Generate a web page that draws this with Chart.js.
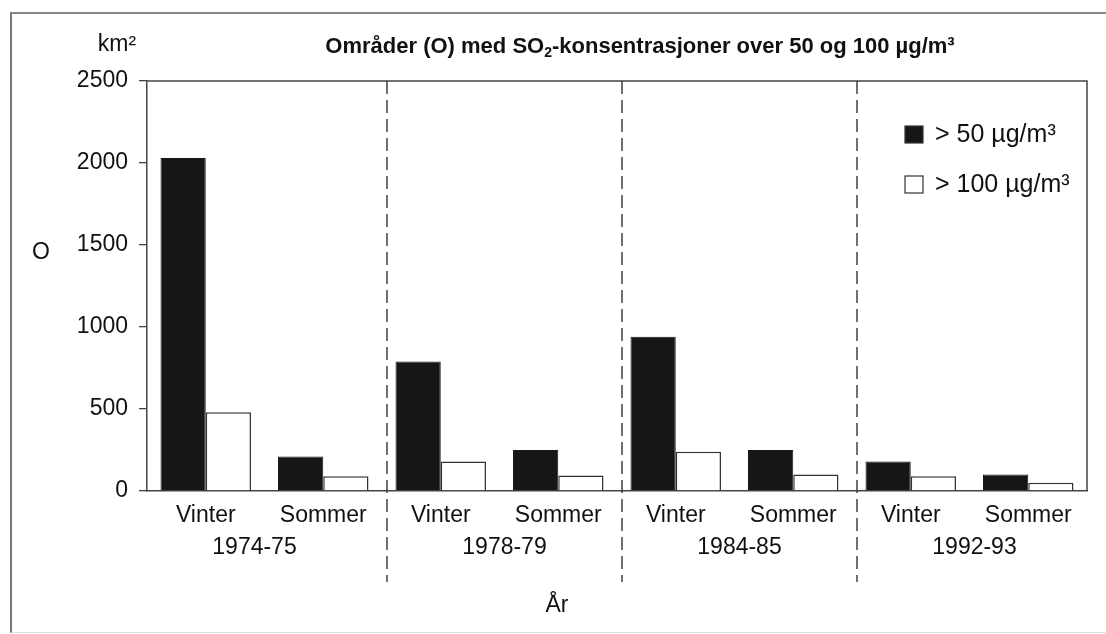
<!DOCTYPE html>
<html>
<head>
<meta charset="utf-8">
<script src="https://cdn.jsdelivr.net/npm/chart.js@4.4.1/dist/chart.umd.min.js"></script>
<style>
  body { margin: 0; background: #fff; }
  #wrap { position: relative; width: 1106px; height: 634px; }
  #frame {
    position: absolute; left: 10px; top: 12px; width: 1110px; height: 618px;
    border-left: 2px solid #777; border-top: 2px solid #888; border-bottom: 1px solid #ddd;
  }
  canvas { position: absolute; left: 0; top: 0; }
</style>
</head>
<body>
<div id="wrap">
  <div id="frame"></div>
  <canvas id="chart" width="1106" height="634"></canvas>
</div>
<script>
// data
const categories = ['Vinter', 'Sommer', 'Vinter', 'Sommer', 'Vinter', 'Sommer', 'Vinter', 'Sommer'];
const years = ['1974-75', '1978-79', '1984-85', '1992-93'];
const over50 = [2030, 210, 790, 250, 940, 250, 180, 100];
const over100 = [480, 90, 180, 95, 240, 100, 90, 50];
const yMax = 2500;
const yStep = 500;

const FONT = "'Liberation Sans', Arial, Helvetica, sans-serif";

// frame, separators, year labels, legend and titles
const extras = {
  id: 'extras',
  afterDatasetsDraw(chart) {
    const ctx = chart.ctx;
    const area = chart.chartArea;
    const x = chart.scales.x;
    ctx.save();

    // box around plot (top + right)
    ctx.strokeStyle = '#444';
    ctx.lineWidth = 1.5;
    ctx.beginPath();
    ctx.moveTo(area.left, area.top);
    ctx.lineTo(area.right, area.top);
    ctx.lineTo(area.right, area.bottom);
    ctx.stroke();

    // dashed separators between years
    ctx.setLineDash([13, 6]);
    ctx.lineWidth = 1.4;
    ctx.strokeStyle = '#333';
    for (let i = 1; i < categories.length - 1; i += 2) {
      const sx = (x.getPixelForValue(i) + x.getPixelForValue(i + 1)) / 2 + 5;
      ctx.beginPath();
      ctx.moveTo(sx, area.top);
      ctx.lineTo(sx, 582);
      ctx.stroke();
    }
    ctx.setLineDash([]);

    ctx.fillStyle = '#111';
    ctx.textBaseline = 'middle';

    // year labels
    ctx.font = '23px ' + FONT;
    ctx.textAlign = 'center';
    years.forEach((yr, g) => {
      const cx = (x.getPixelForValue(g * 2) + x.getPixelForValue(g * 2 + 1)) / 2;
      ctx.fillText(yr, cx + (g === 0 ? -10 : 5), 548);
    });

    // axis titles
    ctx.fillText('År', 557, 606);
    ctx.fillText('O', 41, 253);
    ctx.fillText('km²', 117, 45);

    // legend
    const ds = chart.data.datasets;
    ctx.font = '25px ' + FONT;
    ctx.textAlign = 'left';
    [126, 176].forEach((ly, i) => {
      ctx.fillStyle = ds[i].backgroundColor;
      ctx.fillRect(905, ly, 18, 17);
      ctx.strokeStyle = '#333';
      ctx.lineWidth = 1.2;
      ctx.strokeRect(905, ly, 18, 17);
      ctx.fillStyle = '#111';
      ctx.fillText(ds[i].label, 935, ly + 9);
    });

    // title with subscript 2
    const parts = [
      ['Områder (O) med SO', 'bold 22px ' + FONT, 0],
      ['2', 'bold 14px ' + FONT, 6],
      ['-konsentrasjoner over 50 og 100 µg/m³', 'bold 22px ' + FONT, 0]
    ];
    let total = 0;
    parts.forEach(p => { ctx.font = p[1]; total += ctx.measureText(p[0]).width; });
    let tx = 640 - total / 2;
    parts.forEach(p => {
      ctx.font = p[1];
      ctx.fillText(p[0], tx, 47 + p[2]);
      tx += ctx.measureText(p[0]).width;
    });

    ctx.restore();
  }
};

new Chart(document.getElementById('chart'), {
  type: 'bar',
  data: {
    labels: categories,
    datasets: [
      {
        label: '> 50 µg/m³',
        data: over50,
        backgroundColor: '#161616',
        borderColor: '#161616',
        borderWidth: 1
      },
      {
        label: '> 100 µg/m³',
        data: over100,
        backgroundColor: '#ffffff',
        borderColor: '#333',
        borderWidth: 1.5
      }
    ]
  },
  options: {
    responsive: false,
    animation: false,
    events: [],
    layout: { padding: { left: 0, top: 81, right: 19, bottom: 0 } },
    datasets: { bar: { categoryPercentage: 0.77, barPercentage: 1.0 } },
    plugins: {
      legend: { display: false },
      title: { display: false },
      tooltip: { enabled: false }
    },
    scales: {
      x: {
        grid: { display: false, drawTicks: false },
        border: { display: true, color: '#444', width: 1.5 },
        ticks: { color: '#111', font: { family: FONT, size: 23 }, padding: 11, maxRotation: 0, autoSkip: false },
        afterFit(scale) { scale.height = 143; }
      },
      y: {
        min: 0,
        max: yMax,
        grid: { drawOnChartArea: false, drawTicks: true, tickLength: 8, color: '#444', lineWidth: 1.3 },
        border: { display: true, color: '#444', width: 1.5 },
        ticks: {
          stepSize: yStep, color: '#111', font: { family: FONT, size: 23 }, padding: 11,
          callback: v => String(v)
        },
        afterFit(scale) { scale.width = 147; }
      }
    }
  },
  plugins: [extras]
});
</script>
</body>
</html>
